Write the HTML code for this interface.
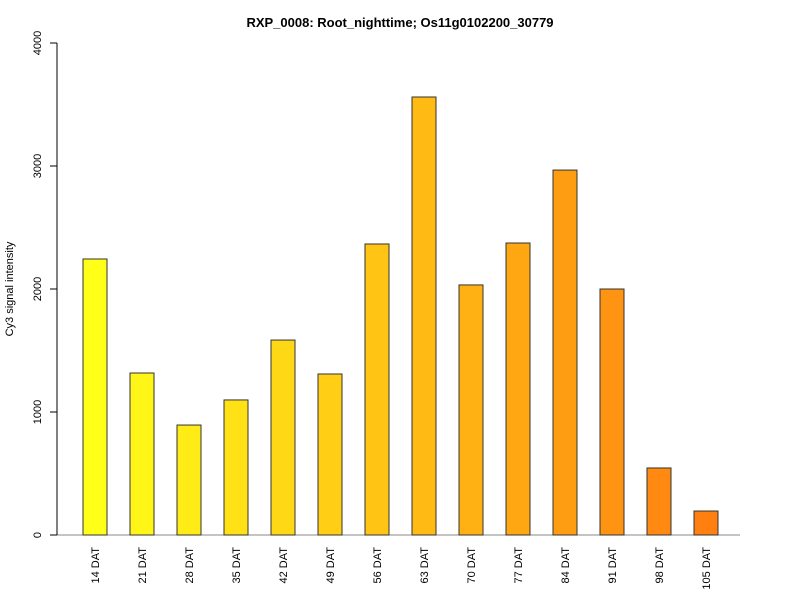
<!DOCTYPE html>
<html><head><meta charset="utf-8"><style>body{margin:0;background:#fff}svg{display:block;font-family:"Liberation Sans",Arial,sans-serif}</style></head>
<body>
<svg id="c" width="800" height="600">
<text x="400" y="27" text-anchor="middle" font-weight="bold" font-size="13">RXP_0008: Root_nighttime; Os11g0102200_30779</text>
<text transform="translate(13,289) rotate(-90)" text-anchor="middle" font-size="11">Cy3 signal intensity</text>
</svg>
<script>
const categories=["14 DAT","21 DAT","28 DAT","35 DAT","42 DAT","49 DAT","56 DAT","63 DAT","70 DAT","77 DAT","84 DAT","91 DAT","98 DAT","105 DAT"];
const values=[2244,1317,894,1098,1585,1309,2366,3561,2033,2374,2967,2000,545,195];
const yTicks=[0,1000,2000,3000,4000];
const svg=document.getElementById('c');const NS='http://www.w3.org/2000/svg';
function y(v){return 535-v*(492/4000);}
function x(i){return 95+i*47;}
function mk(t,a,p){const e=document.createElementNS(NS,t);for(const k in a)e.setAttribute(k,a[k]);(p||svg).appendChild(e);return e;}
const ax=mk('line',{x1:50,x2:740,y1:535,y2:535,stroke:'#888'});


const yl=mk('line',{x1:57,x2:57,y1:y(0),y2:y(4000),stroke:'#000'});


yTicks.forEach(t=>{
 const tk=mk('line',{x1:50,x2:57,y1:y(t),y2:y(t),stroke:'#000'});
 
 
 const tx=mk('text',{transform:`translate(41,${y(t)}) rotate(-90)`,'text-anchor':'middle','font-size':'11'});
 tx.textContent=t;
 
 
});
const n=categories.length;
values.forEach((v,i)=>{
 const f=i/(n-1);
 const g=Math.round(255-f*(255-127)), b=Math.round(23-f*6);
 const r=mk('rect',{x:x(i)-12,y:y(v),width:24,height:y(0)-y(v),fill:`rgb(255,${g},${b})`,stroke:'#333','stroke-width':1});
 
 
 const t=mk('text',{transform:`translate(${x(i)+4},547) rotate(-90)`,'text-anchor':'end','font-size':'11'});
 t.textContent=categories[i];
 
 
});
</script>
</body></html>
